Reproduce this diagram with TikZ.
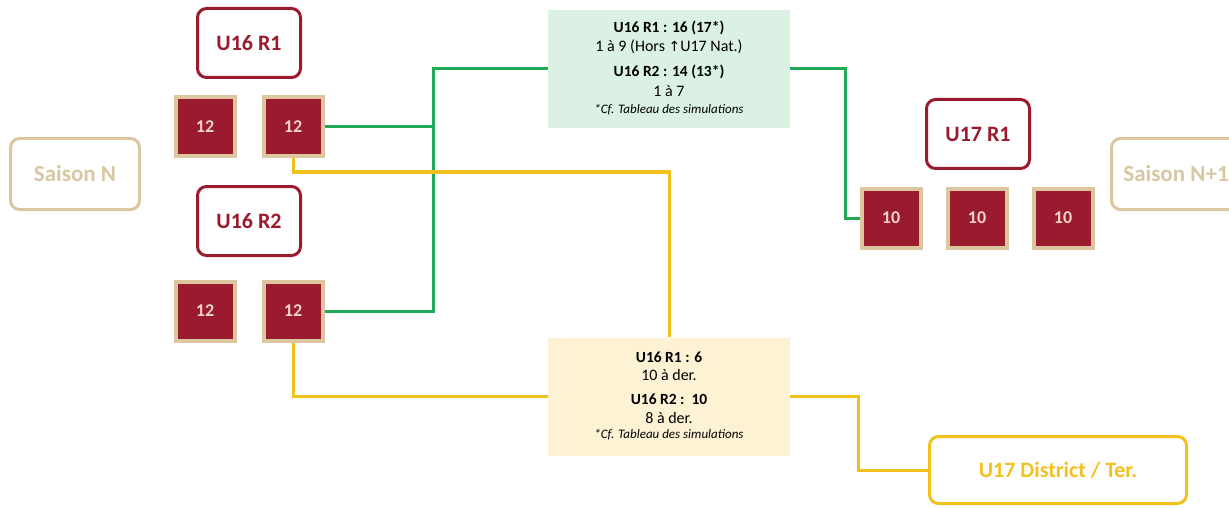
\documentclass[tikz,border=0pt]{standalone}
\usepackage{fontspec}
\setmainfont{Carlito}
\newfontfamily\symfont{DejaVu Sans}
\definecolor{dred}{HTML}{9B1B2E}
\definecolor{tan}{HTML}{DCC6A0}
\definecolor{sagtxt}{HTML}{D8C7A2}
\definecolor{numtxt}{HTML}{F2D4C4}
\definecolor{gline}{HTML}{1FA855}
\definecolor{gfill}{HTML}{DAF1E4}
\definecolor{yline}{HTML}{F2C11D}
\definecolor{yfill}{HTML}{FDF3D4}
\tikzset{
  redbox/.style={draw=dred, line width=3pt, rounded corners=9pt, fill=white,
    minimum width=103pt, minimum height=69pt, inner sep=0pt,
    font=\fontsize{22}{26}\selectfont\bfseries, text=dred},
  saisonbox/.style={draw=tan, line width=3pt, rounded corners=9pt, fill=white,
    minimum width=129pt, minimum height=71pt, inner sep=0pt,
    font=\fontsize{23}{27}\selectfont\bfseries, text=sagtxt},
  sq/.style={draw=tan, line width=4pt, fill=dred, minimum size=59pt, inner sep=0pt,
    font=\fontsize{18}{21}\selectfont\bfseries, text=numtxt},
  infobox/.style={minimum width=242pt, minimum height=118pt, inner sep=0pt},
  gwire/.style={draw=gline, line width=3pt},
  ywire/.style={draw=yline, line width=3pt},
  distbox/.style={draw=yline, line width=3pt, rounded corners=9pt, fill=white,
    minimum width=257pt, minimum height=67pt, inner sep=0pt,
    font=\fontsize{22}{26}\selectfont\bfseries, text=yline},
  head/.style={font=\fontsize{15.5}{18}\selectfont\bfseries},
  body/.style={font=\fontsize{16}{19}\selectfont},
  foot/.style={font=\fontsize{13}{15}\selectfont\itshape}
}
\begin{document}
\begin{tikzpicture}[x=1pt,y=-1pt]
\useasboundingbox (0,0) rectangle (1229,508);
\clip (0,0) rectangle (1229,508);
% info boxes
\node[infobox, fill=gfill] (gbox) at (669,69) {};
\node[infobox, fill=yfill] (ybox) at (669,396.5) {};
% boxes
\node[redbox] (r1) at (249,43) {U16 R1};
\node[redbox] (r2) at (249,221) {U16 R2};
\node[redbox] (u17) at (978,134) {U17 R1};
\node[saisonbox] (sn) at (75,174) {Saison N};
\node[saisonbox] (sn1) at (1176,174) {Saison N+1};
\node[distbox] (dist) at (1058,470) {U17 District / Ter.};
% squares
\node[sq] (s11) at (205,127) {12};
\node[sq] (s12) at (293,127) {12};
\node[sq] (s21) at (205,311) {12};
\node[sq] (s22) at (293,311) {12};
\node[sq] (t1) at (891,218) {10};
\node[sq] (t2) at (977,218) {10};
\node[sq] (t3) at (1063,218) {10};
% junctions
\coordinate (jg) at (433,0);
\coordinate (jg2) at (845,0);
\coordinate (jy) at (0,172);
\coordinate (jy2) at (858,0);
% green wires
\draw[gwire] (s12.east) -- (jg |- s12.east);
\draw[gwire] (s22.east) -| (jg |- gbox.west) -- (gbox.west);
\draw[gwire] (gbox.east) -- (jg2 |- gbox.east) |- (t1.west);
% yellow wires
\draw[ywire] (s12.south) -- (s12.south |- jy) -| (ybox.north);
\draw[ywire] (s22.south) |- (ybox.west);
\draw[ywire] (ybox.east) -- (jy2 |- ybox.east) |- (dist.west);
% info texts
\node[head] (g1) at (669,28) {U16 R1 : 16 (17*)};
\node[body] (g2) at (669,47) {1 à 9 (Hors {\symfont\fontsize{14}{16}\selectfont ↑}U17 Nat.)};
\node[head] (g3) at (669,72) {U16 R2 : 14 (13*)};
\node[body] (g4) at (669,91) {1 à 7};
\node[foot] (g5) at (669,110) {*Cf. Tableau des simulations};
\node[head] (y1) at (669,357) {U16 R1 : 6};
\node[body] (y2) at (669,375) {10 à der.};
\node[head] (y3) at (669,399) {U16 R2 :\ \ 10};
\node[body] (y4) at (669,418) {8 à der.};
\node[foot] (y5) at (669,435) {*Cf. Tableau des simulations};
\end{tikzpicture}
\end{document}
